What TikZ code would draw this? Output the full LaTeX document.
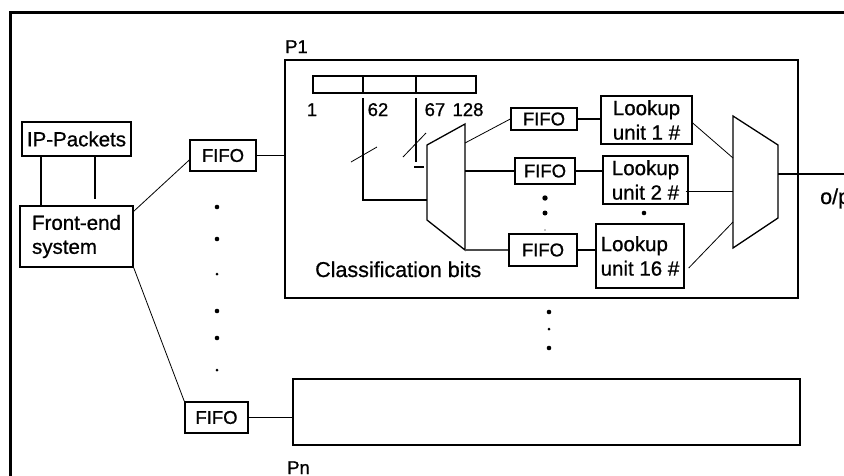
\documentclass[tikz,border=0pt]{standalone}
\usepackage{fontspec}
\setmainfont[RawFeature={embolden=0.8}]{Liberation Sans}
\begin{document}
\begin{tikzpicture}[x=1pt,y=-1pt,
  box/.style={draw, line width=1.4pt, inner sep=0pt, font=\fontsize{20.5}{24}\selectfont},
  fifo/.style={box, font=\fontsize{18.5}{20}\selectfont},
  lookup/.style={box, align=left, font=\fontsize{20.5}{24.5}\selectfont},
  conn/.style={line width=1.1pt},
  thinline/.style={line width=0.8pt},
  bitlab/.style={inner sep=0pt, anchor=base, font=\fontsize{18.5}{20}\selectfont},
  txt/.style={inner sep=0pt, anchor=base west, font=\fontsize{21.5}{24}\selectfont},
  bigdot/.style={fill=black},
  muxshape/.style={line width=1.3pt}]
\useasboundingbox (0,0) rectangle (844,475);
\clip (0,0) rectangle (844,475);
\fill[white] (0,0) rectangle (844,475);
\draw[line width=3pt] (10,480) -- (10,12) -- (850,12);

% left side
\node[box, minimum width=109pt, minimum height=34pt] (ip) at (76.5,139) {IP-Packets};
\node[box, minimum width=113pt, minimum height=61pt, align=left] (fe) at (76.5,236.5) {Front-end\\system};
\node[fifo, minimum width=66pt, minimum height=31pt] (fa) at (223,155.5) {FIFO};
\node[fifo, minimum width=63pt, minimum height=31pt] (fb) at (216.5,417.5) {FIFO};

\draw[conn] ([xshift=-35.5pt]ip.south) -- ([xshift=-35.5pt]ip.south |- fe.north);
\draw[conn] ([xshift=18.5pt]ip.south) -- ([xshift=18.5pt,yshift=6pt]ip.south |- fe.north);
\draw[thinline] ([yshift=-6pt]fe.north east) -- ([yshift=-4.5pt]fa.west);
\draw[thinline] (fe.south east) -- (fb.north west);

% P1 and Pn boxes
\node[box, minimum width=513pt, minimum height=238pt] (p1) at (541.5,179) {};
\node[inner sep=0pt, anchor=base west, font=\fontsize{18.5}{20}\selectfont] (p1lab) at (285,53) {P1};
\node[box, minimum width=507pt, minimum height=66pt] (pn) at (546.5,412) {};
\node[inner sep=0pt, anchor=base west, font=\fontsize{18.5}{20}\selectfont] (pnlab) at (287,474) {Pn};

\draw[conn] (fa.east) -- (fa.east -| p1.west);
\draw[conn] (fb.east) -- (fb.east -| pn.west);

% register
\node[draw, line width=1.1pt, minimum width=163pt, minimum height=17pt, inner sep=0pt] (reg) at (394.5,84.5) {};
\coordinate (d62) at (363,0);
\coordinate (d67) at (416,0);
\draw[conn] (reg.north -| d62) -- (reg.south -| d62);
\draw[conn] (reg.north -| d67) -- (reg.south -| d67);
\node[bitlab] (b1) at (312,116) {1};
\node[bitlab] (b62) at (378,116) {62};
\node[bitlab] (b67) at (435,116) {67};
\node[bitlab] (b128) at (468,116) {128};

% demux
\coordinate (dmTL) at (427,145);
\coordinate (dmTR) at (465,124);
\coordinate (dmBR) at (465,250);
\coordinate (dmBL) at (427,220);
\draw[muxshape] (dmTL) -- (dmTR) -- (dmBR) -- (dmBL) -- cycle;

\coordinate (s62) at (363,98);
\coordinate (s62b) at (363,200);
\coordinate (dmIn) at (427,200);
\draw[conn] (s62) -- (s62b) -- (dmIn);
\coordinate (sl1a) at (351,162); \coordinate (sl1b) at (377,147);
\draw[thinline] (sl1a) -- (sl1b);
\coordinate (s67) at (416,98);
\coordinate (s67b) at (416,162);
\draw[conn] (s67) -- (s67b);
\coordinate (sl2a) at (403,157); \coordinate (sl2b) at (426,133);
\draw[thinline] (sl2a) -- (sl2b);
\coordinate (tk1) at (414,167); \coordinate (tk2) at (424,167);
\draw[conn] (tk1) -- (tk2);

\node[txt] (cls) at (315,277) {Classification bits};

% FIFOs inside P1
\node[fifo, minimum width=66pt, minimum height=22pt] (f1) at (544,119) {FIFO};
\node[fifo, minimum width=60pt, minimum height=26pt] (f2) at (545,171) {FIFO};
\node[fifo, minimum width=68pt, minimum height=32pt] (f3) at (543,250) {FIFO};

\coordinate (dm1) at (465,143);
\draw[thinline] (dm1) -- (f1.west);
\draw[conn] (f2.west -| dmTR) -- (f2.west);
\draw[line width=1.8pt, black!70] (f3.west -| dmTR) -- (f3.west);

% lookup units
\node[lookup, minimum width=91pt, minimum height=48pt] (l1) at (646.5,120) {Lookup\\unit 1 \#};
\node[lookup, minimum width=85pt, minimum height=48pt] (l2) at (645.5,180) {Lookup\\unit 2 \#};
\node[lookup, minimum width=88pt, minimum height=64pt] (l16) at (640,256) {Lookup\\unit 16 \#};

\draw[conn] (f1.east) -- (f1.east -| l1.west);
\draw[conn] (f2.east) -- (f2.east -| l2.west);
\draw[conn] (f3.east) -- (f3.east -| l16.west);

% mux
\coordinate (mxTL) at (733,116);
\coordinate (mxTR) at (778,145);
\coordinate (mxBR) at (778,218);
\coordinate (mxBL) at (733,248);
\draw[muxshape] (mxTL) -- (mxTR) -- (mxBR) -- (mxBL) -- cycle;

\coordinate (m1) at (733,158);
\coordinate (m16) at (733,222);
\draw[thinline] ([yshift=-3pt]l1.east) -- (m1);
\draw[thinline] ([xshift=-3pt,yshift=-11pt]l2.east) -- ([yshift=-11pt]l2.east -| mxTL);
\draw[thinline] ([xshift=4pt,yshift=-12pt]l16.east) -- (m16);

\coordinate (mo) at (778,174);
\coordinate (out) at (846,174);
\draw[conn] (mo) -- (out);
\node[txt] (op) at (820,204) {o/p};

% dots
\foreach \y/\r in {207/2.3,239/2.3,274/1.5,311/2.3,338/2.3,370/1.5}
  \fill[bigdot] (217,\y) circle (\r pt);
\foreach \y/\r in {312/2.3,329/1.5,348/2.3}
  \fill[bigdot] (549,\y) circle (\r pt);
\foreach \y/\r in {198/2.7,213/2.5,230/0.7}
  \fill[bigdot] (545,\y) circle (\r pt);
\fill[bigdot] (644,213) circle (2.3pt);
\end{tikzpicture}
\end{document}
